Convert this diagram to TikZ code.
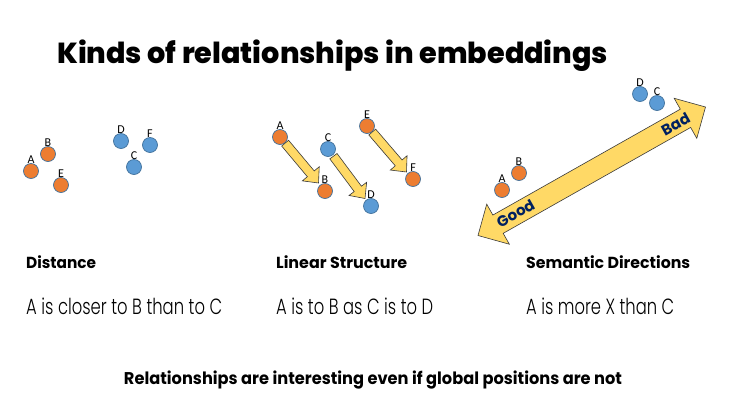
\documentclass[tikz,border=0pt]{standalone}
\usepackage{fontspec}
\usepackage{graphicx}
\setmainfont{Poppins}
% light face for the body lines, heavy face for the title
\newcommand\trybody[2]{\IfFontExistsTF{#1}{\newfontfamily\bodyfont{#1}}{#2}}
\trybody{Poppins Light}{\trybody{Poppins-Light.ttf}{\trybody{Poppins-Light.otf}{%
  \trybody{Fira Sans Light}{\trybody{Lato Light}{\newfontfamily\bodyfont{Poppins}}}}}}
\newcommand\trytitle[2]{\IfFontExistsTF{#1}{\newfontfamily\titlefont{#1}}{#2}}
\trytitle{Poppins ExtraBold}{\trytitle{Poppins-ExtraBold.ttf}{\trytitle{Poppins-ExtraBold.otf}{%
  \newfontfamily\titlefont{Poppins}[UprightFont=*-Bold]}}}
\newfontfamily\labelfont{Carlito}
\usetikzlibrary{calc}

\definecolor{dotorange}{HTML}{ED7D31}
\definecolor{dotblue}{HTML}{5B9BD5}
\definecolor{dotedge}{HTML}{41719C}
\definecolor{arrowfill}{HTML}{FFD966}
\definecolor{arrowedge}{HTML}{3A3A3A}
\definecolor{navy}{HTML}{002060}

% set a text at a fixed width, keeping its natural height
\newcommand\fitw[2]{\resizebox{#1}{\height}{#2}}

% block arrow: start, tip, shaft half width, head half width, head length
\newcommand\blockarrow[5]{%
  \coordinate (ba-p) at ($(#2)!#5!(#1)$);
  \draw[arrowbody] ($(#1)!#3!90:(#2)$) -- ($(ba-p)!#3!90:(#2)$)
    -- ($(ba-p)!#4!90:(#2)$) -- (#2) -- ($(ba-p)!#4!-90:(#2)$)
    -- ($(ba-p)!#3!-90:(#2)$) -- ($(#1)!#3!-90:(#2)$) -- cycle;}

% double-headed block arrow: tip, tip, shaft half width, head half width, head length
\newcommand\doubleblockarrow[5]{%
  \coordinate (da-p) at ($(#2)!#5!(#1)$);
  \coordinate (da-q) at ($(#1)!#5!(#2)$);
  \draw[arrowbody] (#1) -- ($(da-q)!#4!90:(#2)$) -- ($(da-q)!#3!90:(#2)$)
    -- ($(da-p)!#3!90:(#2)$) -- ($(da-p)!#4!90:(#2)$) -- (#2)
    -- ($(da-p)!#4!-90:(#2)$) -- ($(da-p)!#3!-90:(#2)$)
    -- ($(da-q)!#3!-90:(#2)$) -- ($(da-q)!#4!-90:(#2)$) -- cycle;}

\begin{document}
\begin{tikzpicture}[x=1pt,y=-1pt,
  dot/.style={circle, minimum size=15pt, inner sep=0pt, draw=dotedge, line width=0.7pt},
  odot/.style={dot, fill=dotorange},
  bdot/.style={dot, fill=dotblue},
  lbl/.style={font=\labelfont\fontsize{12}{12}\selectfont, inner sep=0pt, text=black},
  arrowbody/.style={fill=arrowfill, draw=arrowedge, line width=0.6pt, line join=miter},
  every label/.style={lbl},
  label distance=-1pt,
  title/.style={inner sep=0pt, anchor=base west, font=\titlefont\fontsize{29}{31}\selectfont},
  heading/.style={inner sep=0pt, anchor=base west, font=\bfseries\fontsize{16}{18}\selectfont},
  body/.style={inner sep=0pt, anchor=base west, font=\bodyfont\fontsize{22}{24}\selectfont},
  footer/.style={inner sep=0pt, anchor=base, font=\bfseries\fontsize{17}{19}\selectfont},
  tag/.style={inner sep=0pt, text=navy, font=\bfseries\fontsize{15}{16}\selectfont}]

\useasboundingbox[fill=white] (0,0) rectangle (735,410);

% title
\node[title] (title) at (57,63.5) {\fitw{551pt}{Kinds of relationships in embeddings}};

% --- distance ---
\node[odot, label=above:A] (dA) at (31,171) {};
\node[odot, label=above:B] (dB) at (48,154) {};
\node[odot, label=above:E] (dE) at (61,185) {};
\node[bdot, label=above:D] (dD) at (121,141) {};
\node[bdot, label=above:F] (dF) at (150,145) {};
\node[bdot, label=above:C] (dC) at (134,167) {};

% --- linear structure ---
\node[odot, label=above:A] (lA) at (280,137) {};
\node[odot, label=above:B] (lB) at (325,191) {};
\node[bdot, label=above:C] (lC) at (328,149) {};
\node[bdot, label=above:D] (lD) at (371,206) {};
\node[odot, label=above:E] (lE) at (367,126) {};
\node[odot, label=above:F] (lF) at (413,179) {};

\coordinate (a1s) at ($(lA)!8pt!(lB)$);
\coordinate (a1t) at (318.5,183);
\coordinate (a2s) at ($(lC)!9pt!(lD)$);
\coordinate (a2t) at (365,198.5);
\coordinate (a3s) at ($(lE)!8pt!(lF)$);
\coordinate (a3t) at (406.5,172);
\blockarrow{a1s}{a1t}{4.5pt}{11pt}{12pt}
\blockarrow{a2s}{a2t}{4.5pt}{11pt}{12pt}
\blockarrow{a3s}{a3t}{4.5pt}{11pt}{12pt}

% --- semantic directions ---
\coordinate (good) at (478,235.5);
\coordinate (bad) at (705.5,107);
\doubleblockarrow{good}{bad}{10.5pt}{23pt}{23pt}
\node[tag, rotate=29.45] (tgood) at (515.5,213.5) {Good};
\node[tag, rotate=29.45] (tbad) at (675.5,124) {Bad};

\node[odot, label=above:A] (sA) at (502,190) {};
\node[odot, label=above:B] (sB) at (519,173) {};
\node[bdot, label=above:D] (sD) at (640,94) {};
\node[bdot, label=above:C] (sC) at (657,103) {};

% --- captions ---
\node[heading] (h1) at (26,268.5) {\fitw{70pt}{Distance}};
\node[heading] (h2) at (276,268.5) {\fitw{131pt}{Linear Structure}};
\node[heading] (h3) at (526,268.5) {\fitw{164pt}{Semantic Directions}};

\node[body] (b1) at (26,314) {\fitw{196pt}{A is closer to B than to C}};
\node[body] (b2) at (276,314) {\fitw{157pt}{A is to B as C is to D}};
\node[body] (b3) at (526,314) {\fitw{148pt}{A is more X than C}};

\node[footer] (foot) at (373,384.5) {\fitw{498pt}{Relationships are interesting even if global positions are not}};

\end{tikzpicture}
\end{document}
